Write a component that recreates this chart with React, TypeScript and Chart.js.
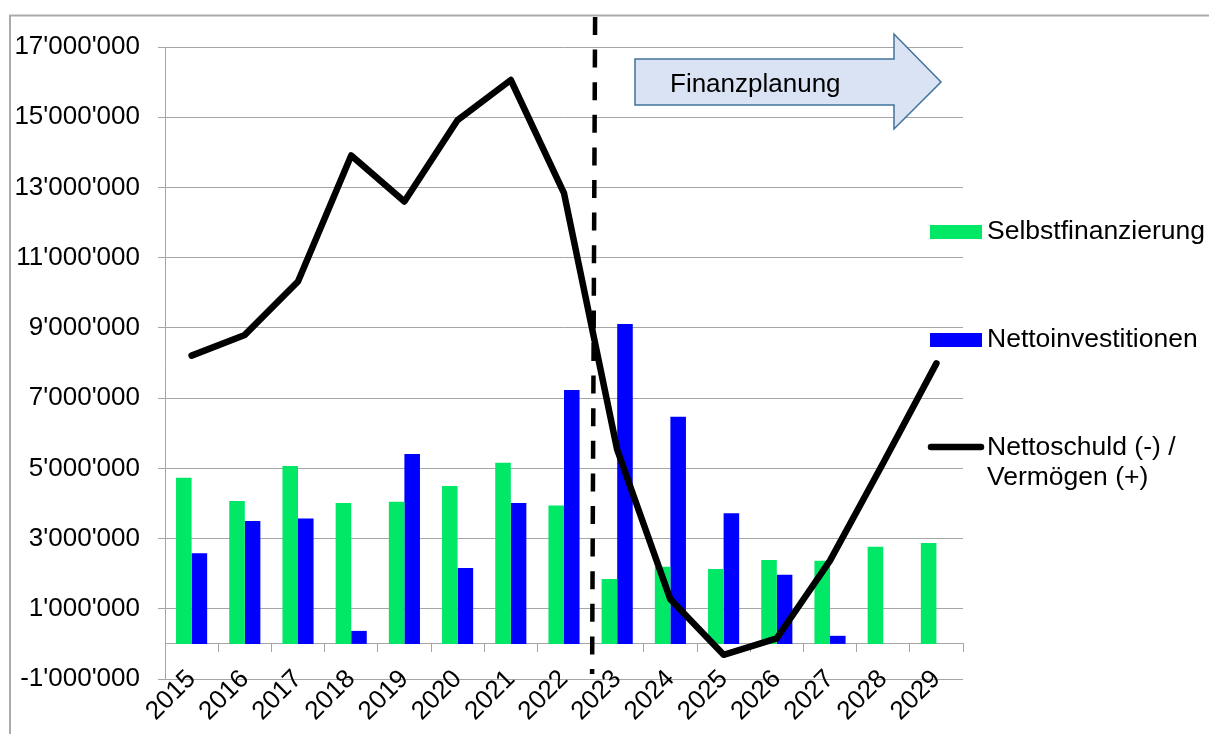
import React, { useEffect, useRef } from 'react';
import { Chart, registerables } from 'chart.js';

Chart.register(...registerables);

const years = ['2015', '2016', '2017', '2018', '2019', '2020', '2021', '2022', '2023', '2024', '2025', '2026', '2027', '2028', '2029'];

const selbstfinanzierung = [4730000, 4070000, 5070000, 4010000, 4050000, 4500000, 5160000, 3940000, 1850000, 2200000, 2130000, 2390000, 2370000, 2770000, 2870000];

const nettoinvestitionen = [2580000, 3500000, 3570000, 370000, 5410000, 2160000, 4010000, 7230000, 9110000, 6470000, 3720000, 1970000, 230000, null, null];

const nettoschuld = [8210000, 8800000, 10320000, 13910000, 12600000, 14920000, 16060000, 12840000, 5530000, 1270000, -310000, 160000, 2370000, 5150000, 7990000];

const yTicks = [-1000000, 1000000, 3000000, 5000000, 7000000, 9000000, 11000000, 13000000, 15000000, 17000000];

const seriesLabels = ['Selbstfinanzierung', 'Nettoinvestitionen', 'Nettoschuld (-) /\nVermögen (+)'];
const arrowText = 'Finanzplanung';

const FONT = "'Liberation Sans', Arial, sans-serif";
const GRID = '#A6A6A6';
const GREEN = '#00E866';
const BLUE = '#0000FF';

const fmt = (v: number) => {
  const s = Math.abs(Math.round(v)).toString().replace(/\B(?=(\d{3})+(?!\d))/g, "'");
  return (v < 0 ? '-' : '') + s;
};

const overlay = {
  id: 'overlay',
  afterDatasetsDraw(chart: any) {
    const ctx = chart.ctx;
    const xs = chart.scales.x;
    const ca = chart.chartArea;
    ctx.save();
    const b = (xs.getPixelForValue(7) + xs.getPixelForValue(8)) / 2;
    ctx.setLineDash([18, 14.6]);
    ctx.lineWidth = 4.5;
    ctx.strokeStyle = '#000';
    ctx.lineCap = 'butt';
    ctx.beginPath();
    ctx.moveTo(b + 4.5, 17);
    ctx.lineTo(b + 1.5, ca.bottom - 5);
    ctx.stroke();
    ctx.restore();
  },
  afterDraw(chart: any) {
    const ctx = chart.ctx;
    ctx.save();
    // frame
    ctx.strokeStyle = '#ABABAB';
    ctx.lineWidth = 2;
    ctx.beginPath();
    ctx.moveTo(10, chart.height + 5);
    ctx.lineTo(10, 15.5);
    ctx.lineTo(chart.width + 5, 15.5);
    ctx.stroke();

    // arrow annotation
    ctx.beginPath();
    ctx.moveTo(635, 59);
    ctx.lineTo(894, 59);
    ctx.lineTo(894, 34);
    ctx.lineTo(941, 82);
    ctx.lineTo(894, 129);
    ctx.lineTo(894, 105);
    ctx.lineTo(635, 105);
    ctx.closePath();
    ctx.fillStyle = '#DAE3F3';
    ctx.fill();
    ctx.strokeStyle = '#41719C';
    ctx.lineWidth = 1.5;
    ctx.lineJoin = 'miter';
    ctx.stroke();
    ctx.fillStyle = '#000';
    ctx.font = `26px ${FONT}`;
    ctx.textAlign = 'left';
    ctx.textBaseline = 'alphabetic';
    ctx.fillText(arrowText, 670, 92);

    // legend
    const ds = chart.data.datasets;
    const lx = 930;
    const tx = 987;
    ctx.font = `26.5px ${FONT}`;
    // green
    ctx.fillStyle = ds[1].backgroundColor;
    ctx.fillRect(lx, 225, 52, 14);
    ctx.fillStyle = '#000';
    ctx.fillText(ds[1].label, tx, 239);
    // blue
    ctx.fillStyle = ds[2].backgroundColor;
    ctx.fillRect(lx, 333, 52, 14);
    ctx.fillStyle = '#000';
    ctx.fillText(ds[2].label, tx, 347);
    // line
    ctx.strokeStyle = ds[0].borderColor;
    ctx.lineWidth = 6.5;
    ctx.lineCap = 'round';
    ctx.beginPath();
    ctx.moveTo(lx + 1, 447);
    ctx.lineTo(lx + 51, 447);
    ctx.stroke();
    const lines = String(ds[0].label).split('\n');
    ctx.fillStyle = '#000';
    lines.forEach((t, i) => ctx.fillText(t, tx, 455 + i * 30));
    ctx.restore();
  },
};

export default function App() {
  const ref = useRef<HTMLCanvasElement | null>(null);
  useEffect(() => {
    if (!ref.current) return;
    const chart = new Chart(ref.current, {
      type: 'bar',
      data: {
        labels: years,
        datasets: [
          {
            type: 'line',
            label: seriesLabels[2],
            data: nettoschuld,
            borderColor: '#000000',
            backgroundColor: '#000000',
            borderWidth: 6.5,
            pointRadius: 0,
            borderJoinStyle: 'round',
            borderCapStyle: 'round',
            tension: 0,
            order: 0,
          } as any,
          {
            type: 'bar',
            label: seriesLabels[0],
            data: selbstfinanzierung,
            backgroundColor: GREEN,
            borderWidth: 0,
            categoryPercentage: 0.585,
            barPercentage: 1.0,
            order: 1,
          },
          {
            type: 'bar',
            label: seriesLabels[1],
            data: nettoinvestitionen,
            backgroundColor: BLUE,
            borderWidth: 0,
            categoryPercentage: 0.585,
            barPercentage: 1.0,
            order: 2,
          },
        ],
      },
      options: {
        responsive: false,
        animation: false,
        devicePixelRatio: 1,
        layout: { padding: { top: 47, bottom: 55, left: 0, right: 246 } },
        plugins: {
          legend: { display: false },
          tooltip: { enabled: false },
        },
        scales: {
          x: {
            position: { y: 0 } as any,
            offset: true,
            grid: {
              display: true,
              drawOnChartArea: false,
              drawTicks: true,
              tickLength: 8,
              color: GRID,
              offset: true,
            },
            border: { display: true, color: GRID, width: 1 },
            ticks: {
              autoSkip: false,
              minRotation: 45,
              maxRotation: 45,
              padding: 12,
              color: '#000',
              font: { family: FONT, size: 26 },
            },
          },
          y: {
            min: -1000000,
            max: 17000000,
            afterBuildTicks: (s: any) => {
              s.ticks = yTicks.map((v) => ({ value: v }));
            },
            afterFit: (s: any) => {
              s.width = 165;
            },
            grid: { color: GRID, lineWidth: 1, tickLength: 7, drawTicks: true },
            border: { display: true, color: GRID, width: 1 },
            ticks: {
              color: '#000',
              padding: 18,
              font: { family: FONT, size: 26 },
              callback: (v: any) => fmt(Number(v)),
            },
          },
        },
      },
      plugins: [overlay],
    });
    return () => chart.destroy();
  }, []);
  return (
    <div style={{ position: 'fixed', left: 0, top: 0, width: 1209, height: 734, background: '#fff' }}>
      <canvas ref={ref} width={1209} height={734} style={{ display: 'block' }} />
    </div>
  );
}
